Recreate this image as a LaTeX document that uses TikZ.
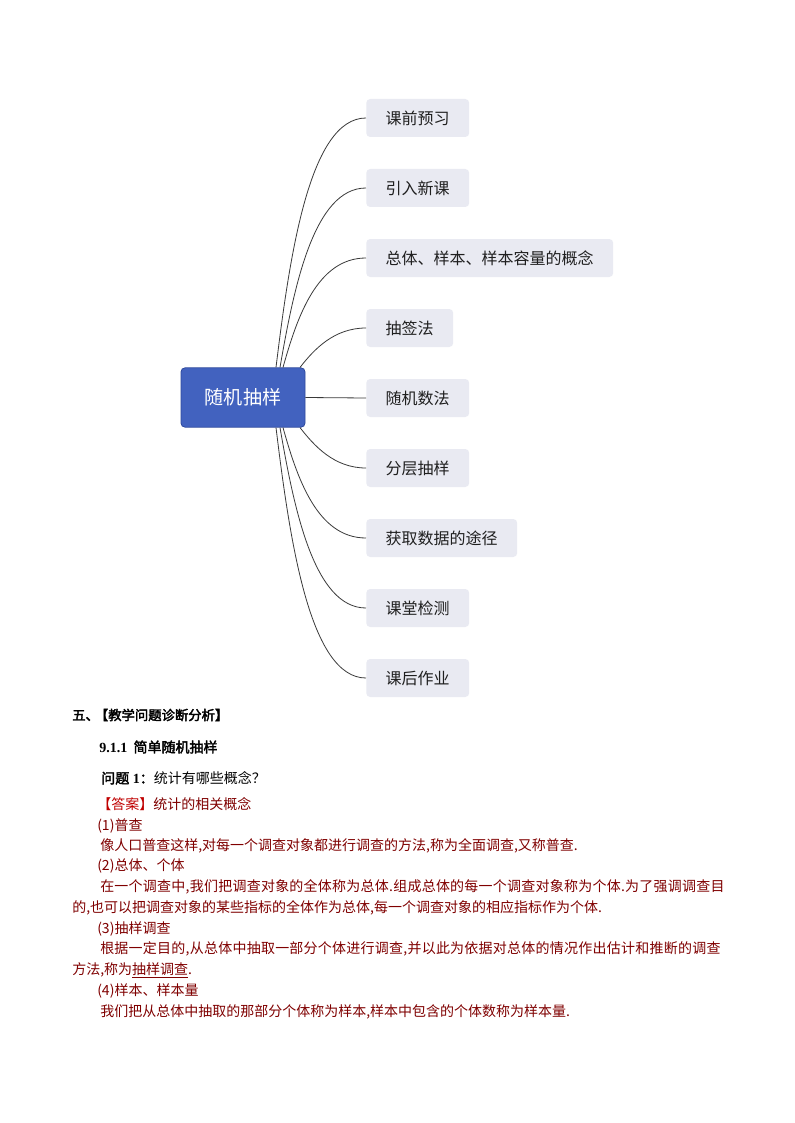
\documentclass[tikz,border=0pt]{standalone}
\usepackage{fontspec}
\setmainfont[AutoFakeBold=2.5]{Noto Sans CJK SC}
\newfontfamily\lat{Liberation Serif}
\usetikzlibrary{calc,backgrounds}
\definecolor{rootblue}{HTML}{4262BF}
\definecolor{rootborder}{HTML}{2F4A9E}
\definecolor{leaffill}{HTML}{E9EAF2}
\definecolor{linec}{HTML}{3A3A3A}
\definecolor{bodyred}{HTML}{800000}
\definecolor{ansred}{HTML}{C00000}
\tikzset{
  rootnode/.style={rectangle, rounded corners=3pt, fill=rootblue, draw=rootborder,
    line width=0.6pt, minimum width=93pt, minimum height=44.5pt, inner sep=0pt,
    text=white, font=\fontsize{14.3pt}{16pt}\selectfont},
  leafnode/.style={rectangle, rounded corners=3pt, fill=leaffill, anchor=west,
    minimum height=28.5pt, inner xsep=14.6pt, inner ysep=0pt,
    text=black!88, font=\fontsize{12pt}{14pt}\selectfont},
  branch/.style={draw=linec, line width=0.6pt},
  txt/.style={anchor=west, inner sep=0pt, font=\fontsize{10.5pt}{12pt}\selectfont},
  head/.style={anchor=west, inner sep=0pt, font=\fontsize{10pt}{12pt}\selectfont\bfseries},
  body/.style={txt, text=bodyred},
  wide/.style={body, font=\fontsize{10.5pt}{12pt}\selectfont\addfontfeature{LetterSpace=1.7}}
}
\begin{document}
\begin{tikzpicture}[x=0.75pt,y=-0.75pt]
\useasboundingbox (0,0) rectangle (794,1123);
\fill[white] (0,0) rectangle (794,1123);

% mind map
\node[rootnode] (root) at (243,397.5) {随机抽样};
\node[leafnode] (n1) at (366,118) {课前预习};
\node[leafnode] (n2) at (366,188) {引入新课};
\node[leafnode] (n3) at (366,258) {总体、样本、样本容量的概念};
\node[leafnode] (n4) at (366,328) {抽签法};
\node[leafnode] (n5) at (366,398) {随机数法};
\node[leafnode] (n6) at (366,468) {分层抽样};
\node[leafnode] (n7) at (366,538) {获取数据的途径};
\node[leafnode] (n8) at (366,608) {课堂检测};
\node[leafnode] (n9) at (366,678) {课后作业};

\draw[branch] ($(root.north)+(33,0)$) .. controls +(14,-115) and +(-56,0) .. (n1.west);
\draw[branch] ($(root.north)+(37,0)$) .. controls +(14,-81) and +(-52,0) .. (n2.west);
\draw[branch] ($(root.north)+(40,0)$) .. controls +(14,-50) and +(-49,0) .. (n3.west);
\draw[branch] ($(root.north)+(57,0)$) .. controls +(14,-18) and +(-32,0) .. (n4.west);
\draw[branch] (root.east) -- (n5.west);
\draw[branch] ($(root.south)+(57,0)$) .. controls +(14,18) and +(-32,0) .. (n6.west);
\draw[branch] ($(root.south)+(40,0)$) .. controls +(14,50) and +(-49,0) .. (n7.west);
\draw[branch] ($(root.south)+(37,0)$) .. controls +(14,81) and +(-52,0) .. (n8.west);
\draw[branch] ($(root.south)+(33,0)$) .. controls +(14,115) and +(-56,0) .. (n9.west);

% text section
\node[head] (t1) at (72,715) {五、\hspace{-3pt}【教学问题诊断分析】};
\node[head, font=\fontsize{10.5pt}{12pt}\selectfont\bfseries] (t2) at (99,747) {{\lat\bfseries 9.1.1}\ \ 简单随机抽样};
\node[txt] (t3) at (101,778) {{\bfseries 问题{\lat\bfseries\ 1}：}统计有哪些概念？};
\node[txt] (t4) at (97,804) {\textcolor{ansred}{【答案】}\textcolor{bodyred}{统计的相关概念}};
\node[body] (t5) at (97,826) {(1)普查};
\node[body] (t6) at (100,846) {像人口普查这样,对每一个调查对象都进行调查的方法,称为全面调查,又称普查.};
\node[body] (t7) at (97,866) {(2)总体、个体};
\node[wide] (t8) at (100,887) {在一个调查中,我们把调查对象的全体称为总体.组成总体的每一个调查对象称为个体.为了强调调查目};
\node[body] (t9) at (72,908) {的,也可以把调查对象的某些指标的全体作为总体,每一个调查对象的相应指标作为个体.};
\node[body] (t10) at (97,929) {(3)抽样调查};
\node[wide] (t11) at (100,949) {根据一定目的,从总体中抽取一部分个体进行调查,并以此为依据对总体的情况作出估计和推断的调查};
\node[body] (t12) at (72,970) {方法,称为\underline{抽样调查}.};
\node[body] (t13) at (97,991) {(4)样本、样本量};
\node[body] (t14) at (100,1012) {我们把从总体中抽取的那部分个体称为样本,样本中包含的个体数称为样本量.};
\end{tikzpicture}
\end{document}
